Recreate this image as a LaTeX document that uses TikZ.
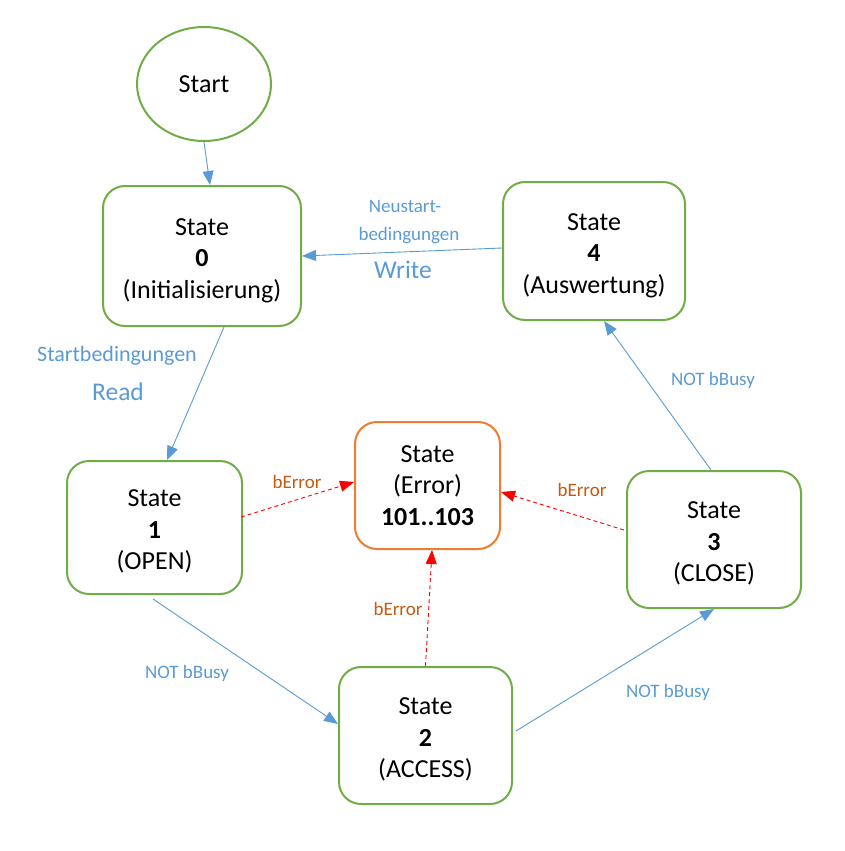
\documentclass[tikz,border=0pt]{standalone}
\usepackage{fontspec}
\setmainfont{Carlito}
\usetikzlibrary{arrows.meta,shapes.geometric}
\definecolor{boxgreen}{RGB}{112,173,71}
\definecolor{boxorange}{RGB}{237,125,49}
\definecolor{arrowblue}{RGB}{91,155,213}
\definecolor{errtext}{RGB}{197,90,17}
\definecolor{errred}{RGB}{255,0,0}
\newcommand{\topfix}{\rule{0pt}{25.5pt}}
\tikzset{
  statebox/.style={draw=boxgreen, line width=2pt, rounded corners=22pt, fill=white,
    align=center, font=\fontsize{26}{31.5}\selectfont, inner sep=0pt},
  errbox/.style={statebox, draw=boxorange},
  startell/.style={draw=boxgreen, line width=2pt, ellipse, inner sep=0pt,
    font=\fontsize{26}{31.5}\selectfont},
  trans/.style={draw=arrowblue, line width=0.9pt, -{Triangle[length=14pt,width=11pt]}},
  errtrans/.style={draw=errred, line width=0.9pt, dash pattern=on 4pt off 3pt,
    -{Triangle[length=14pt,width=11pt]}},
  lbl/.style={text=arrowblue, font=\fontsize{19}{22}\selectfont, inner sep=0pt},
  errlbl/.style={text=errtext, font=\fontsize{19}{22}\selectfont, inner sep=0pt},
  biglbl/.style={text=arrowblue, font=\fontsize{25.5}{28}\selectfont, inner sep=0pt},
  midlbl/.style={text=arrowblue, font=\fontsize{22}{25}\selectfont, inner sep=0pt},
}
\begin{document}
\begin{tikzpicture}[x=1pt,y=-1pt]
\useasboundingbox[fill=white] (0,0) rectangle (845,851);

\node[startell, minimum width=134pt, minimum height=114pt] (start) at (204,84) {Start};
\node[statebox, minimum width=198pt, minimum height=140pt] (s0) at (202,256)
  {\topfix State\\\textbf{0}\\(Initialisierung)};
\node[statebox, minimum width=182pt, minimum height=138pt] (s4) at (594,251)
  {\topfix State\\\textbf{4}\\(Auswertung)};
\node[errbox, minimum width=145pt, minimum height=127pt] (err) at (427.5,485.5)
  {State\\(Error)\\\textbf{101..103}};
\node[statebox, minimum width=175pt, minimum height=133pt] (s1) at (154.5,527.5)
  {\topfix State\\\textbf{1}\\(OPEN)};
\node[statebox, minimum width=174pt, minimum height=137pt] (s3) at (714,539.5)
  {\topfix State\\\textbf{3}\\(CLOSE)};
\node[statebox, minimum width=173pt, minimum height=137pt] (s2) at (425.5,735.5)
  {\topfix State\\\textbf{2}\\(ACCESS)};

% transitions
\draw[trans] (start.south) -- ([xshift=8pt]s0.north);
\draw[trans] ([yshift=3pt]s4.west) -- (s0.east);
\draw[trans] ([xshift=22pt]s0.south) -- ([xshift=12.5pt]s1.north);
\draw[trans] ([xshift=-1.5pt,yshift=-4pt]s1.south) -- ([yshift=11.5pt]s2.west);
\draw[trans] ([yshift=4.5pt,xshift=3pt]s2.east) -- (s3.south);
\draw[trans] ([xshift=-3pt]s3.north) -- ([xshift=10pt]s4.south);

\draw[errtrans] ([xshift=-2pt,yshift=10.5pt]s1.east) -- ([yshift=3.5pt]err.west);
\draw[errtrans] ([xshift=-2pt,yshift=9.5pt]s3.west) -- ([yshift=-6.5pt]err.east);
\draw[errtrans] (s2.north) -- ([xshift=4.5pt]err.south);

% labels
\node[lbl] (lneu) at (405,206) {Neustart-};
\node[lbl] (lbed) at (409,236) {bedingungen};
\node[biglbl] (lwrite) at (403,270) {Write};
\node[midlbl] (lstart) at (117,356) {Startbedingungen};
\node[biglbl] (lread) at (118,392) {Read};
\node[errlbl] (le1) at (297,482) {bError};
\node[errlbl] (le3) at (582,490) {bError};
\node[errlbl] (le2) at (398,609) {bError};
\node[lbl] (lb1) at (187,673) {NOT bBusy};
\node[lbl] (lb3) at (713,380) {NOT bBusy};
\node[lbl] (lb2) at (668,692) {NOT bBusy};
\end{tikzpicture}
\end{document}
